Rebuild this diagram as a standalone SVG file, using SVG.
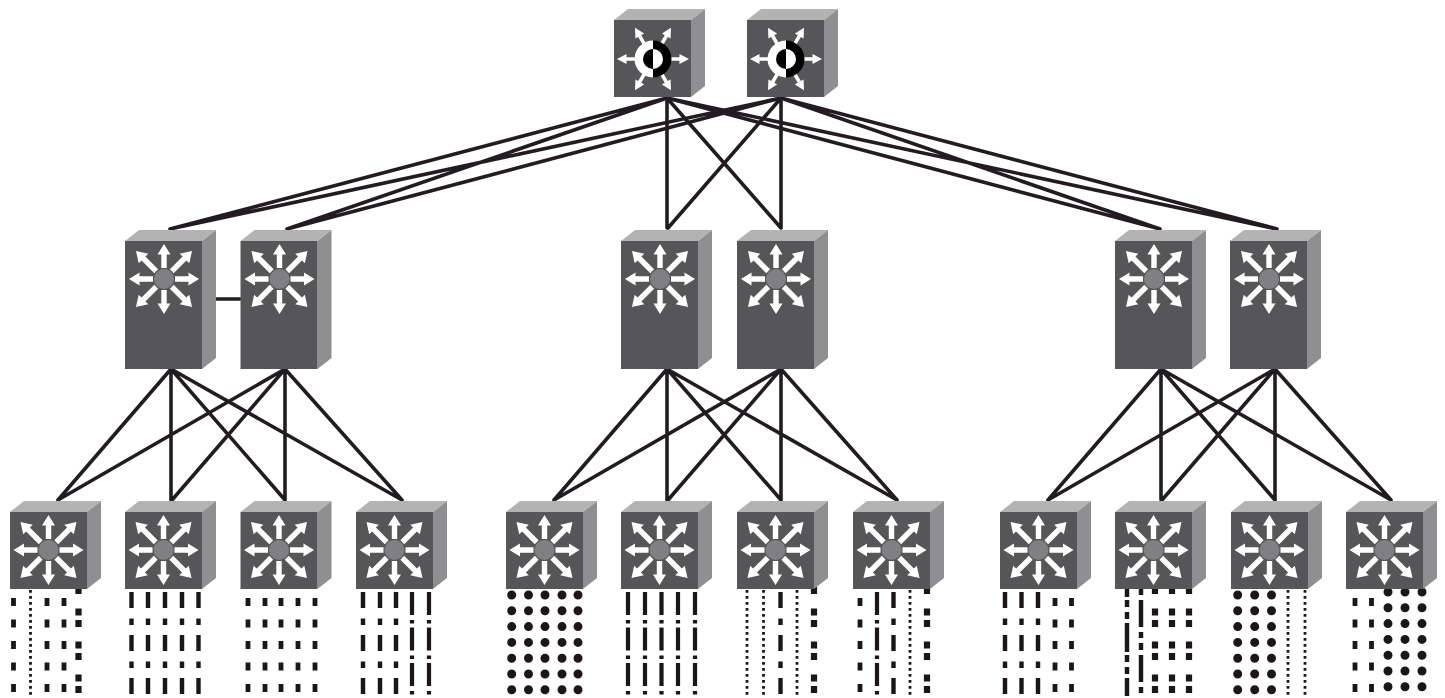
<svg xmlns="http://www.w3.org/2000/svg" xmlns:xlink="http://www.w3.org/1999/xlink" width="1445" height="698" viewBox="0 0 1445 698">
<style>
.front{fill:#565658}.top{fill:#b3b3b3}.side{fill:#8f8f91}.w{fill:#fff}
.l{stroke:#231f20;stroke-width:3.6;fill:none;stroke-linecap:round}
.c{fill:none;stroke:#1a1718}
.S{stroke-width:4.8;stroke-dasharray:8 13.5}
.LS{stroke-width:4.4;stroke-dasharray:16 10.5 6.5 10}
.SQ{stroke-width:6.2;stroke-dasharray:7 4.5 7 14.5}
.LD{stroke-width:4.2;stroke-dasharray:23 5 3.5 4}
.D{stroke-width:2.8;stroke-dasharray:2.8 3.2}
.C{stroke-width:9;stroke-dasharray:0 15.8;stroke-linecap:round}
.A{stroke-width:4.4;stroke-dasharray:7 5 7 4 29 3}
.B{stroke-width:4.4;stroke-dasharray:27 5 6 5 7 5}
</style>
<defs>
<filter id="soft" x="0" y="0" width="100%" height="100%"><feGaussianBlur stdDeviation="0.45"/></filter>
<path id="ar" class="w" d="M11 -2.7H24.500V-6.500L35 0L24.500 6.500V2.700H11Z"/>
<path id="ad" class="w" d="M11 -2.7H29V-6.800L39.600 0L29 6.800V2.700H11Z"/>
<path id="ac" class="w" d="M12 -1.800H26.500V-5L36 0L26.500 5V1.800H12Z"/>
<g id="star">
<use href="#ar"/><use href="#ar" transform="rotate(90)"/><use href="#ar" transform="rotate(180)"/><use href="#ar" transform="rotate(270)"/>
<use href="#ad" transform="rotate(45)"/><use href="#ad" transform="rotate(135)"/><use href="#ad" transform="rotate(225)"/><use href="#ad" transform="rotate(315)"/>
<circle r="10" fill="#808082"/>
</g>
<g id="box">
<polygon class="top" points="0,0 14,-11 91,-11 77,0"/>
<polygon class="side" points="77,0 91,-11 91,66 77,77"/>
<rect class="front" width="77" height="77"/>
</g>
<g id="acc"><use href="#box"/><use href="#star" x="38.5" y="38"/></g>
<g id="dist">
<polygon class="top" points="0,0 14,-11 91,-11 77,0"/>
<polygon class="side" points="77,0 91,-11 91,117 77,128"/>
<rect class="front" width="77" height="128"/>
<use href="#star" x="39" y="38"/>
</g>
<g id="core">
<use href="#box"/>
<g transform="translate(39,39)">
<use href="#ac"/><use href="#ac" transform="rotate(60)"/><use href="#ac" transform="rotate(120)"/><use href="#ac" transform="rotate(180)"/><use href="#ac" transform="rotate(240)"/><use href="#ac" transform="rotate(300)"/>
<path d="M0 -18.500A18.500 18.500 0 0 0 0 18.500Z" fill="#fff"/>
<path d="M0 -18.500A18.500 18.500 0 0 1 0 18.500Z" fill="#000"/>
<path d="M0 -10A10 10 0 0 0 0 10Z" fill="#000"/>
<path d="M0 -10A10 10 0 0 1 0 10Z" fill="#fff"/>
</g>
</g>
</defs>
<rect width="1445" height="698" fill="#fff"/>
<g filter="url(#soft)">
<g id="connectors">
<g class="l">
<path d="M667 98L170 229M781 98L170 229M667 98L287 229M781 98L287 229"/>
<path d="M667 98V228M781 98V228M667 98L781 228M781 98L668 228"/>
<path d="M667 98L1160 229M781 98L1160 229M667 98L1277 229M781 98L1277 229"/>
<path d="M216 299H240"/>
<path d="M171 369L58 500M171 369V500M171 369L285 500M171 369L402 500M285 369L58 500M285 369L172 500M285 369V500M285 369L402 500"/>
<path d="M667 369L554 500M667 369V500M667 369L781 500M667 369L897 500M781 369L554 500M781 369L668 500M781 369V500M781 369L897 500"/>
<path d="M1161 369L1048 500M1161 369V500M1161 369L1275 500M1161 369L1391 500M1275 369L1048 500M1275 369L1162 500M1275 369V500M1275 369L1391 500"/>
</g>
<g id="host-links" class="c">
<path class="S" d="M13.500 598V694M47 598V694M64 598V694"/><path class="D" d="M30.500 590V696"/><path class="SQ" d="M78.500 575.500V694"/>
<path class="LS" d="M131.500 592V697M148 592V697M165 592V697M182 592V697M198.500 592V697"/>
<path class="S" d="M248 598V694M265 598V694M281 598V694M298 598V694M315 598V694"/>
<path class="LS" d="M363 592V697M380 592V697M396 592V697"/><path class="LD" d="M412 592V696M429 592V696"/>
<path class="C" d="M511.700 595V695M528.500 595V695M545 595V695M562 595V695M578 595V695"/>
<path class="LD" d="M628 592V696M645 592V696M661.500 592V696M678 592V696M695 592V696"/>
<path class="D" d="M747 590V696M763.500 590V696M797 590V696"/><path class="LS" d="M780.500 592V697"/><path class="SQ" d="M814 575.500V694"/>
<path class="S" d="M860 598V694"/><path class="LD" d="M877 592V696"/><path class="LS" d="M893.500 592V697"/><path class="D" d="M910 590V696"/><path class="SQ" d="M927 575.500V694"/>
<path class="LS" d="M1005 592V697M1021.500 592V697M1038 592V697"/><path class="S" d="M1055 598V694M1071.500 598V694"/>
<path class="A" d="M1127 545V696"/><path class="B" d="M1141 545V696"/><path class="SQ" d="M1155 575.500V694M1172 575.500V694M1189 575.500V694"/>
<path class="C" d="M1237.700 595V695M1254.700 595V695M1271.500 595V695"/><path class="D" d="M1288 590V696M1305 590V696"/>
<path class="S" d="M1355 598V694M1371.500 598V694"/><path class="C" d="M1388 592V692M1405 592V692M1422 592V692"/>
</g>
</g>
<g id="core-1" transform="translate(614,20)"><use href="#core"/></g>
<g id="core-2" transform="translate(747,20)"><use href="#core"/></g>
<g id="dist-1" transform="translate(125,241)"><use href="#dist"/></g>
<g id="dist-2" transform="translate(240.500,241)"><use href="#dist"/></g>
<g id="dist-3" transform="translate(621,241)"><use href="#dist"/></g>
<g id="dist-4" transform="translate(737,241)"><use href="#dist"/></g>
<g id="dist-5" transform="translate(1115,241)"><use href="#dist"/></g>
<g id="dist-6" transform="translate(1230,241)"><use href="#dist"/></g>
<g id="access-1" transform="translate(10,512)"><use href="#acc"/></g>
<g id="access-2" transform="translate(125,512)"><use href="#acc"/></g>
<g id="access-3" transform="translate(240.500,512)"><use href="#acc"/></g>
<g id="access-4" transform="translate(356,512)"><use href="#acc"/></g>
<g id="access-5" transform="translate(506,512)"><use href="#acc"/></g>
<g id="access-6" transform="translate(621,512)"><use href="#acc"/></g>
<g id="access-7" transform="translate(737,512)"><use href="#acc"/></g>
<g id="access-8" transform="translate(853,512)"><use href="#acc"/></g>
<g id="access-9" transform="translate(1000,512)"><use href="#acc"/></g>
<g id="access-10" transform="translate(1115,512)"><use href="#acc"/></g>
<g id="access-11" transform="translate(1231,512)"><use href="#acc"/></g>
<g id="access-12" transform="translate(1346,512)"><use href="#acc"/></g>
</g>
</svg>
